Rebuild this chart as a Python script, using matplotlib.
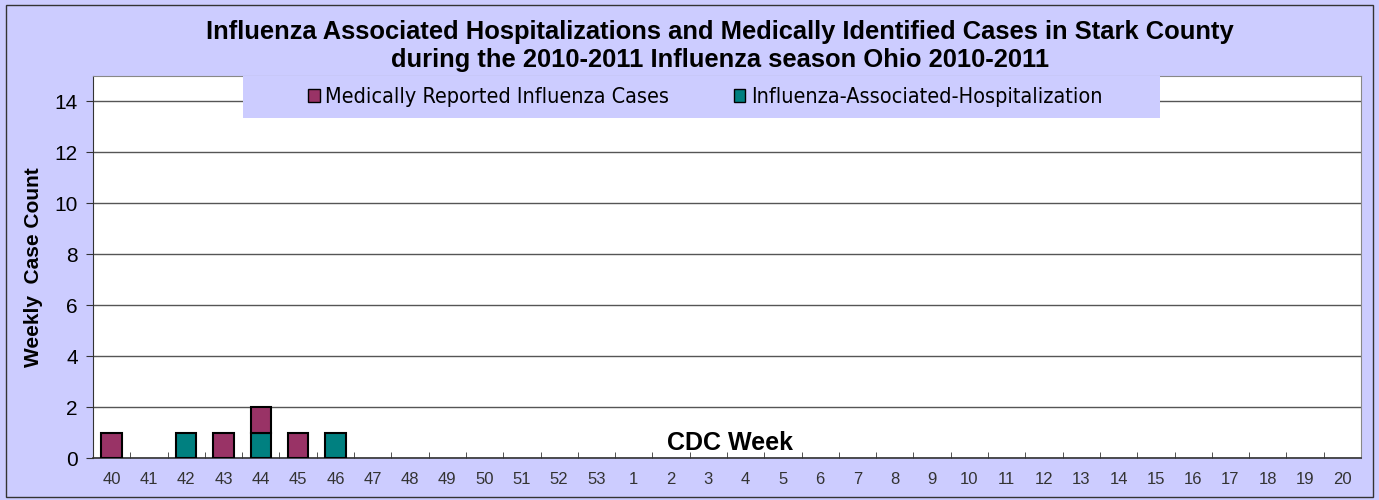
import matplotlib
matplotlib.use("Agg")
import matplotlib.pyplot as plt
from matplotlib.patches import Rectangle, Patch
from matplotlib import font_manager
import numpy as np

plt.rcParams['font.family'] = ['Liberation Sans', 'DejaVu Sans']

weeks = ['40', '41', '42', '43', '44', '45', '46', '47', '48', '49', '50', '51', '52', '53',
         '1', '2', '3', '4', '5', '6', '7', '8', '9', '10', '11', '12', '13', '14', '15',
         '16', '17', '18', '19', '20']
hospitalizations = [0, 0, 1, 0, 1, 0, 1] + [0] * 27
medical_cases = [1, 0, 0, 1, 1, 1, 0] + [0] * 27

bg = '#CCCCFF'
maroon = '#993366'
teal = '#008080'

fig = plt.figure(figsize=(13.79, 5.0), dpi=100, facecolor=bg)
fig.patches.append(Rectangle((0.004, 0.006), 0.992, 0.984, transform=fig.transFigure,
                             fill=False, edgecolor='#333333', linewidth=1.0))
ax = fig.add_axes([93/1379, 1 - 458/500, (1361-93)/1379, (458-76)/500])
ax.set_facecolor('white')

x = np.arange(len(weeks))
ax.bar(x, hospitalizations, width=0.55, color=teal, edgecolor='black', linewidth=1.5, zorder=3)
ax.bar(x, medical_cases, width=0.55, bottom=hospitalizations, color=maroon, edgecolor='black',
       linewidth=1.5, zorder=3)
for p in ax.patches:
    if p.get_height() == 0:
        p.set_visible(False)

ax.set_xlim(-0.5, len(weeks) - 0.5)
ax.set_ylim(0, 15)
ax.set_yticks(range(0, 15, 2))
ax.yaxis.grid(True, color='#555555', linewidth=1.0, zorder=0)
ax.set_axisbelow(True)
ax.set_xticks(x)
ax.set_xticklabels(weeks, fontsize=12, color='#333333')
ax.tick_params(axis='x', length=0, pad=10)
ax.set_xticks(x[:-1] + 0.5, minor=True)
ax.tick_params(axis='x', which='minor', direction='in', length=4, color='#333333')
ax.tick_params(axis='y', labelsize=15, length=5, color='#333333', pad=6)

for s in ['top', 'right']:
    ax.spines[s].set_color('#888888')
ax.spines['left'].set_color('#333333')
ax.spines['bottom'].set_color('#333333')
ax.spines['bottom'].set_linewidth(1.2)

ax.set_ylabel('Weekly  Case Count', fontsize=15, fontweight='bold', labelpad=8)
ax.text(16.58, 0.6, 'CDC Week', fontsize=18, fontweight='bold', ha='center', va='center', zorder=4)

fig.text(720/1379, 0.908, 'Influenza Associated Hospitalizations and Medically Identified Cases in Stark County\n'
         'during the 2010-2011 Influenza season Ohio 2010-2011',
         ha='center', va='center', fontsize=18.4, fontweight='bold', linespacing=1.25)

# legend background box
ax.add_patch(Rectangle((243/1379, 1 - 118/500), (1160-243)/1379, 42/500,
                       transform=fig.transFigure, facecolor=bg, edgecolor='none',
                       clip_on=False, zorder=10))

handles = [Patch(facecolor=maroon, edgecolor='black', linewidth=1.0),
           Patch(facecolor=teal, edgecolor='black', linewidth=1.0)]
labels = ['Medically Reported Influenza Cases', 'Influenza-Associated-Hospitalization']
legprop = font_manager.FontProperties(family='DejaVu Sans', stretch='condensed', size=15.5)
leg = fig.legend(handles, labels, loc='center',
                 bbox_to_anchor=(705/1379, 1 - 97/500), ncol=2, frameon=False,
                 handlelength=0.55, handleheight=0.55, handletextpad=0.25,
                 columnspacing=3.0, borderpad=0.2, prop=legprop)

fig.savefig('out.png', dpi=100, facecolor=bg)
